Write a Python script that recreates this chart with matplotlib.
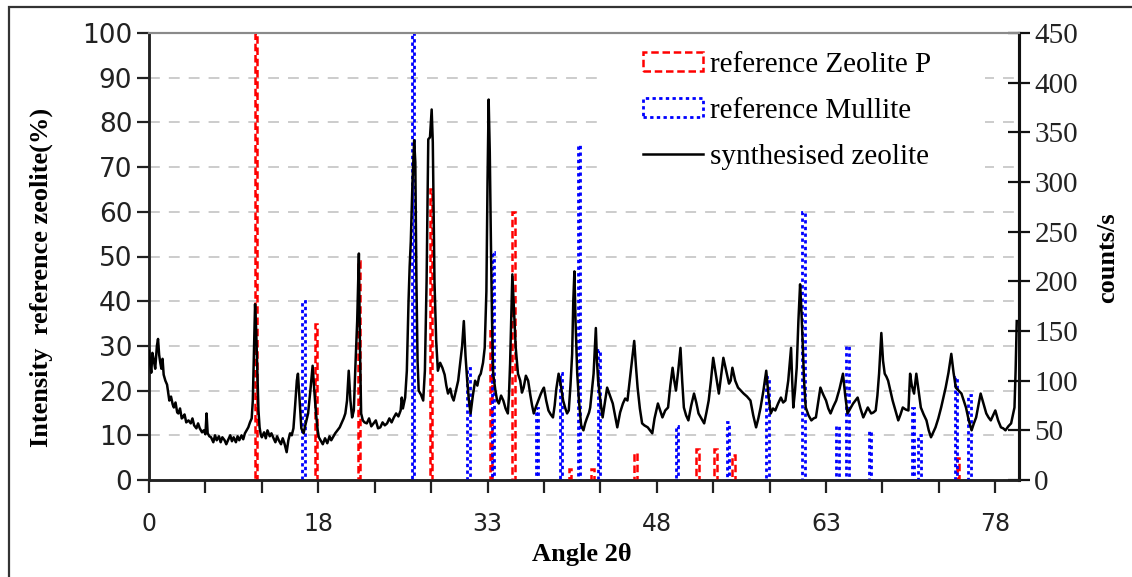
import matplotlib
matplotlib.use("Agg")
import matplotlib.pyplot as plt
from matplotlib.patches import Rectangle

# ---------------- data ----------------
zeolite_p_angle = [12.5, 17.8, 21.6, 28.0, 33.3, 35.3, 40.3, 42.3, 46.1, 51.6, 53.2, 54.8, 74.7]
zeolite_p_int = [100, 35, 49, 65, 34, 60, 2.5, 2.5, 6, 7, 7, 5.6, 5]

mullite_angle = [16.7, 26.4, 31.3, 33.5, 37.4, 39.5, 41.1, 42.9, 49.8, 54.3, 57.8,
                 61.0, 64.0, 64.9, 66.9, 70.7, 71.3, 74.5, 75.7]
mullite_int = [40, 100, 25, 51, 16, 24, 75, 29, 12, 13, 23,
               60, 12, 30, 11, 16, 10, 23, 19]

synth_angle = [
    3.0, 3.1, 3.2, 3.3, 3.4, 3.55, 3.7, 3.8, 3.9, 4.0, 4.1, 4.2, 4.3, 4.45, 4.6, 4.7, 4.8, 4.95,
    5.1, 5.2, 5.35, 5.5, 5.6, 5.75, 5.9, 6.0, 6.15, 6.3, 6.5, 6.7, 6.85, 7.0, 7.2, 7.35, 7.5,
    7.7, 7.85, 8.0, 8.1, 8.2, 8.35, 8.5, 8.7, 8.85, 9.0, 9.2, 9.35, 9.5, 9.7, 9.85, 10.0, 10.2,
    10.35, 10.5, 10.7, 10.85, 11.0, 11.2, 11.35, 11.5, 11.65, 11.8, 11.95, 12.1, 12.2, 12.3,
    12.4, 12.5, 12.6, 12.7, 12.8, 12.9, 13.0, 13.2, 13.35, 13.5, 13.7, 13.85, 14.0, 14.2,
    14.35, 14.5, 14.7, 14.85, 15.0, 15.2, 15.35, 15.5, 15.65, 15.8, 15.95, 16.1, 16.2, 16.35,
    16.5, 16.7, 16.85, 17.0, 17.1, 17.3, 17.5, 17.65, 17.8, 17.95, 18.05, 18.2, 18.4, 18.6,
    18.8, 19.0, 19.15, 19.3, 19.5, 19.7, 19.9, 20.1, 20.25, 20.4, 20.55, 20.7, 20.85, 21.0,
    21.15, 21.3, 21.45, 21.6, 21.7, 21.8, 21.95, 22.1, 22.3, 22.5, 22.7, 22.9, 23.1, 23.3,
    23.5, 23.7, 23.9, 24.1, 24.3, 24.5, 24.7, 24.9, 25.1, 25.3, 25.4, 25.5, 25.7, 25.85, 26.0,
    26.1, 26.2, 26.35, 26.5, 26.6, 26.7, 26.8, 26.9, 27.1, 27.3, 27.45, 27.6, 27.75, 27.9,
    28.05, 28.15, 28.3, 28.45, 28.6, 28.8, 29.0, 29.2, 29.35, 29.5, 29.7, 29.85, 30.0, 30.2,
    30.4, 30.55, 30.75, 30.9, 31.05, 31.2, 31.35, 31.5, 31.7, 31.9, 32.1, 32.25, 32.4, 32.6,
    32.75, 32.9, 33.0, 33.1, 33.2, 33.3, 33.4, 33.5, 33.7, 33.85, 34.0, 34.2, 34.4, 34.6, 34.8,
    34.9, 35.0, 35.1, 35.2, 35.35, 35.5, 35.7, 35.9, 36.05, 36.2, 36.4, 36.6, 36.8, 36.95,
    37.1, 37.3, 37.5, 37.7, 37.85, 38.0, 38.2, 38.4, 38.6, 38.8, 38.95, 39.1, 39.3, 39.5,
    39.7, 39.9, 40.05, 40.2, 40.35, 40.5, 40.6, 40.7, 40.8, 40.95, 41.1, 41.3, 41.5, 41.65,
    41.8, 42.0, 42.1, 42.25, 42.4, 42.6, 42.7, 42.8, 43.0, 43.2, 43.4, 43.6, 43.85, 44.1,
    44.3, 44.5, 44.75, 45.0, 45.2, 45.4, 45.55, 45.7, 45.85, 46.0, 46.15, 46.3, 46.5, 46.7,
    46.9, 47.2, 47.4, 47.6, 47.8, 48.1, 48.3, 48.5, 48.75, 49.0, 49.2, 49.4, 49.55, 49.7,
    49.9, 50.1, 50.25, 50.4, 50.6, 50.8, 51.05, 51.3, 51.5, 51.7, 51.95, 52.2, 52.4, 52.6,
    52.8, 53.0, 53.25, 53.5, 53.7, 53.9, 54.15, 54.4, 54.55, 54.7, 54.95, 55.2, 55.45, 55.7,
    56.0, 56.3, 56.55, 56.8, 57.0, 57.2, 57.45, 57.7, 57.9, 58.1, 58.3, 58.5, 58.75, 59.0,
    59.2, 59.4, 59.65, 59.9, 60.0, 60.1, 60.25, 60.4, 60.55, 60.7, 60.8, 60.9, 61.05, 61.2,
    61.45, 61.7, 61.9, 62.1, 62.3, 62.5, 62.75, 63.0, 63.2, 63.4, 63.65, 63.9, 64.2, 64.5,
    64.7, 64.9, 65.15, 65.4, 65.6, 65.8, 66.05, 66.3, 66.5, 66.7, 67.0, 67.2, 67.4, 67.55,
    67.7, 67.9, 68.05, 68.2, 68.35, 68.5, 68.7, 68.9, 69.15, 69.4, 69.6, 69.8, 70.05, 70.3,
    70.45, 70.6, 70.8, 70.9, 71.0, 71.2, 71.4, 71.65, 71.9, 72.1, 72.3, 72.5, 72.7, 72.95,
    73.2, 73.4, 73.6, 73.85, 74.1, 74.3, 74.5, 74.75, 75.0, 75.2, 75.4, 75.65, 75.9, 76.1,
    76.3, 76.5, 76.7, 76.95, 77.2, 77.4, 77.6, 77.8, 78.0, 78.25, 78.5, 78.7, 78.9, 79.15,
    79.4, 79.55, 79.7, 79.8, 79.9,
]
synth_counts = [
    130, 118, 108, 128, 122, 112, 135, 142, 126, 118, 112, 122, 106, 100, 96, 88, 80, 84,
    76, 73, 78, 68, 67, 72, 62, 63, 66, 58, 60, 57, 62, 55, 52, 57, 52,
    48, 50, 46, 67, 47, 44, 43, 38, 45, 40, 44, 38, 43, 40, 36, 40, 45,
    39, 43, 38, 44, 40, 45, 41, 47, 50, 53, 58, 62, 80, 130,
    177, 150, 110, 70, 53, 46, 43, 48, 42, 50, 44, 47, 43, 38,
    44, 40, 36, 42, 37, 28, 40, 47, 45, 52, 75, 100, 107, 80,
    52, 47, 55, 62, 67, 90, 115, 90, 67, 50, 43, 40, 36, 42,
    37, 44, 40, 43, 47, 50, 53, 58, 62, 67, 80, 110, 80, 63,
    70, 117, 160, 228, 130, 67, 60, 58, 57, 62, 54, 57, 60, 52,
    53, 58, 55, 57, 62, 58, 63, 67, 64, 70, 83, 72, 83, 110, 180,
    215, 240, 300, 342, 320, 200, 120, 90, 86, 80, 110, 200, 343, 345,
    373, 340, 200, 140, 110, 118, 113, 106, 95, 87, 92, 84, 80, 90,
    100, 115, 135, 160, 125, 100, 80, 67, 85, 100, 95, 104, 107, 118,
    133, 190, 300, 383, 330, 240, 160, 107, 90, 80, 77, 85, 80, 72, 67,
    85, 117, 160, 207, 170, 133, 107, 100, 88, 93, 105, 100, 85, 75,
    67, 74, 80, 86, 90, 93, 80, 70, 66, 63, 75, 92, 107, 95,
    80, 72, 67, 70, 95, 127, 180, 210, 160, 107, 80, 55, 50, 57,
    62, 68, 73, 90, 107, 153, 120, 100, 80, 63, 78, 93, 85, 77,
    65, 53, 68, 77, 82, 80, 95, 110, 125, 140, 115, 93, 72, 57,
    55, 53, 50, 47, 62, 77, 70, 63, 70, 73, 95, 113, 100, 90,
    110, 133, 100, 73, 65, 60, 75, 87, 78, 67, 62, 57, 68, 80,
    100, 123, 105, 87, 105, 123, 110, 97, 100, 113, 100, 93, 90, 87,
    84, 80, 65, 53, 62, 73, 90, 110, 85, 67, 72, 70, 77, 83,
    78, 80, 100, 133, 100, 73, 90, 113, 160, 197, 175, 147, 100, 73,
    65, 60, 62, 63, 78, 93, 86, 80, 72, 67, 74, 80, 92, 107,
    85, 67, 72, 77, 80, 83, 72, 63, 68, 73, 67, 68, 70, 85,
    107, 148, 120, 107, 104, 100, 90, 80, 70, 60, 66, 73, 71, 70,
    107, 95, 87, 97, 107, 90, 73, 66, 60, 50, 43, 48, 53, 62,
    73, 83, 93, 108, 127, 108, 93, 90, 87, 80, 73, 60, 50, 57,
    63, 75, 87, 77, 67, 63, 60, 65, 70, 60, 53, 52, 50, 54,
    57, 65, 73, 110, 160,
]

x_tick_pos = [3, 8, 13, 18, 23, 28, 33, 38, 43, 48, 53, 58, 63, 68, 73, 78]
x_tick_labels = ["0", "", "", "18", "", "", "33", "", "", "48", "", "", "63", "", "", "78"]
left_ticks = [0, 10, 20, 30, 40, 50, 60, 70, 80, 90, 100]
right_ticks = [0, 50, 100, 150, 200, 250, 300, 350, 400, 450]

labels = ["reference Zeolite P", "reference Mullite", "synthesised zeolite"]

# ---------------- figure ----------------
W, H = 1132, 577
fig = plt.figure(figsize=(W / 100, H / 100), dpi=100)
fig.patch.set_facecolor("white")

L, R, T, B = 149, 1019, 33, 480
ax = fig.add_axes([L / W, 1 - B / H, (R - L) / W, (B - T) / H])
ax2 = ax.twinx()

SERIF = ["Liberation Serif", "DejaVu Serif"]
SANS = ["DejaVu Sans"]

# reference patterns as narrow outlined columns
ax.bar(zeolite_p_angle, zeolite_p_int, width=0.22, fill=False, edgecolor="#ff0000",
       linestyle=(0, (3, 1.5)), linewidth=1.8, label=labels[0], zorder=3)
ax.bar(mullite_angle, mullite_int, width=0.22, fill=False, edgecolor="#0000ff",
       linestyle=(0, (1.2, 1.2)), linewidth=2.0, label=labels[1], zorder=3)

ax2.plot(synth_angle, synth_counts, color="black", linewidth=1.8, label=labels[2], zorder=4)

ax.set_xlim(3, 80.1)
ax.set_ylim(0, 100)
ax2.set_ylim(0, 450)

ax.set_xticks(x_tick_pos)
ax.set_xticklabels(x_tick_labels, fontfamily=SANS, fontsize=17, color="#222222")
ax.set_yticks(left_ticks)
ax.set_yticklabels([str(v) for v in left_ticks], fontfamily=SANS, fontsize=19, color="#222222")
ax2.set_yticks(right_ticks)
ax2.set_yticklabels([str(v) for v in right_ticks], fontfamily=SERIF, fontsize=21, color="#222222")

ax.tick_params(axis="x", direction="out", length=9, width=1.6, pad=14, color="#222222")
ax.tick_params(axis="y", direction="out", length=9, width=1.6, pad=3, color="#222222")
ax2.tick_params(axis="y", direction="inout", length=16, width=1.6, pad=3, color="#111111")

ax.grid(axis="y", color="#c8c8c8", linestyle=(0, (6, 5)), linewidth=1.3)
ax.set_axisbelow(True)

for a in (ax, ax2):
    a.spines["top"].set_color("#8a8a8a")
    a.spines["top"].set_linewidth(1.5)
    a.spines["left"].set_linewidth(1.8)
    a.spines["bottom"].set_linewidth(1.8)
    a.spines["right"].set_linewidth(2.2)
    a.spines["left"].set_color("#222222")
    a.spines["bottom"].set_color("#222222")
    a.spines["right"].set_color("#111111")

ax.set_xlabel("Angle 2\u03b8", fontfamily=SERIF, fontweight="bold", fontsize=19)
ax.xaxis.set_label_coords((582 - L) / (R - L), -(543 - B) / (B - T))
ax.set_ylabel("Intensity  reference zeolite(%)", fontfamily=SERIF, fontweight="bold", fontsize=19)
ax.yaxis.set_label_coords((53 - L) / (R - L), (B - 277) / (B - T))
ax2.set_ylabel("counts/s", fontfamily=SERIF, fontweight="bold", fontsize=19)
ax2.yaxis.set_label_coords((1096 - L) / (R - L), (B - 258) / (B - T))

# white legend area covering the grid
ax2.add_patch(Rectangle(((597 - L) / (R - L), (B - 190) / (B - T)),
                        (985 - 597) / (R - L), (190 - T) / (B - T) - 0.004,
                        transform=ax2.transAxes, facecolor="white", edgecolor="none", zorder=5))

h1, l1 = ax.get_legend_handles_labels()
h2, l2 = ax2.get_legend_handles_labels()
leg = ax2.legend(h1 + h2, l1 + l2, loc="upper left",
                 bbox_to_anchor=((643 - L) / (R - L), (B - 52) / (B - T)),
                 frameon=False, prop={"family": SERIF, "size": 21},
                 handlelength=2.05, handleheight=0.62, handletextpad=0.25,
                 labelspacing=0.69, borderpad=0, borderaxespad=0)
leg.set_zorder(6)

# outer frame
fig.patches.append(Rectangle((9 / W, -0.02), 1.2, (H - 7) / H + 0.02,
                             transform=fig.transFigure, fill=False,
                             edgecolor="#333333", linewidth=1.6))

fig.savefig("out.png", dpi=100)
